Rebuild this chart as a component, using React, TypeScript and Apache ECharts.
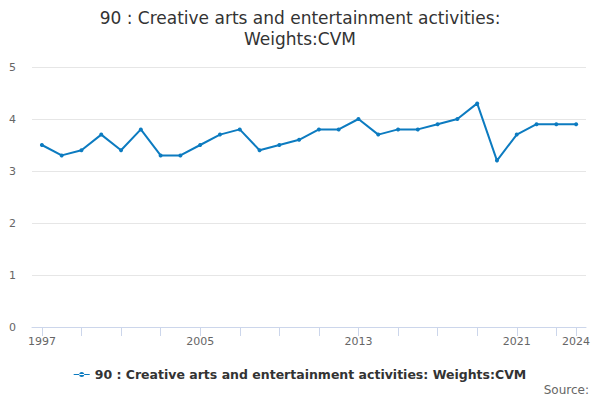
import React, { useEffect, useRef } from "react";
import * as echarts from "echarts";

const years: string[] = [
  "1997", "1998", "1999", "2000", "2001", "2002", "2003", "2004", "2005", "2006",
  "2007", "2008", "2009", "2010", "2011", "2012", "2013", "2014", "2015", "2016",
  "2017", "2018", "2019", "2020", "2021", "2022", "2023", "2024",
];
const values: number[] = [
  3.5, 3.3, 3.4, 3.7, 3.4, 3.8, 3.3, 3.3, 3.5, 3.7,
  3.8, 3.4, 3.5, 3.6, 3.8, 3.8, 4.0, 3.7, 3.8, 3.8,
  3.9, 4.0, 4.3, 3.2, 3.7, 3.9, 3.9, 3.9,
];
const seriesName = "90 : Creative arts and entertainment activities: Weights:CVM";
const titleText = "90 : Creative arts and entertainment activities:\nWeights:CVM";
const FONT = "DejaVu Sans";
const LINE_COLOR = "#0c7bc0";

export default function App() {
  const ref = useRef<HTMLDivElement>(null);
  useEffect(() => {
    if (!ref.current) return;
    const chart = echarts.init(ref.current, undefined, { renderer: "svg" });
    const last = years.length - 1;
    chart.setOption({
      animation: false,
      backgroundColor: "#ffffff",
      textStyle: { fontFamily: FONT },
      title: {
        text: titleText,
        left: "center",
        top: 2,
        textStyle: {
          fontFamily: FONT,
          fontSize: 17,
          fontWeight: "normal",
          color: "#333333",
          lineHeight: 21,
        },
      },
      legend: {
        bottom: 14,
        left: "center",
        itemWidth: 16,
        itemHeight: 8,
        itemGap: 5,
        icon: "path://M0,3.5 L16,3.5 L16,4.5 L0,4.5 Z M5.5,4 A2.5,2.5 0 1 0 10.5,4 A2.5,2.5 0 1 0 5.5,4 Z",
        textStyle: { fontFamily: FONT, fontSize: 12.5, fontWeight: "bold", color: "#333333" },
        data: [seriesName],
      },
      graphic: [
        {
          type: "text",
          right: 11,
          bottom: 4,
          style: { text: "Source:", fontFamily: FONT, fontSize: 12, fill: "#666666" },
        },
      ],
      grid: { left: 32, right: 14, top: 67, bottom: 73 },
      xAxis: {
        type: "category",
        data: years,
        boundaryGap: true,
        axisLine: { lineStyle: { color: "#ccd6eb", width: 1 } },
        axisTick: {
          show: true,
          alignWithLabel: true,
          length: 9,
          lineStyle: { color: "#ccd6eb", width: 1 },
          interval: (i: number) => i % 2 === 0 || i === last,
        },
        axisLabel: {
          color: "#666666",
          fontSize: 11,
          fontFamily: FONT,
          margin: 9,
          interval: (i: number) => i % 8 === 0 || i === last,
        },
        splitLine: { show: false },
      },
      yAxis: {
        type: "value",
        min: 0,
        max: 5,
        interval: 1,
        axisLine: { show: false },
        axisTick: { show: false },
        axisLabel: { color: "#666666", fontSize: 11, fontFamily: FONT, margin: 16 },
        splitLine: { lineStyle: { color: "#e6e6e6", width: 1 } },
      },
      series: [
        {
          name: seriesName,
          type: "line",
          data: values,
          color: LINE_COLOR,
          lineStyle: { color: LINE_COLOR, width: 2 },
          itemStyle: { color: LINE_COLOR },
          symbol: "circle",
          symbolSize: 4,
          showSymbol: true,
        },
      ],
    });
    return () => chart.dispose();
  }, []);
  return (
    <div
      ref={ref}
      style={{ position: "fixed", left: 0, top: 0, width: 600, height: 400 }}
    />
  );
}
